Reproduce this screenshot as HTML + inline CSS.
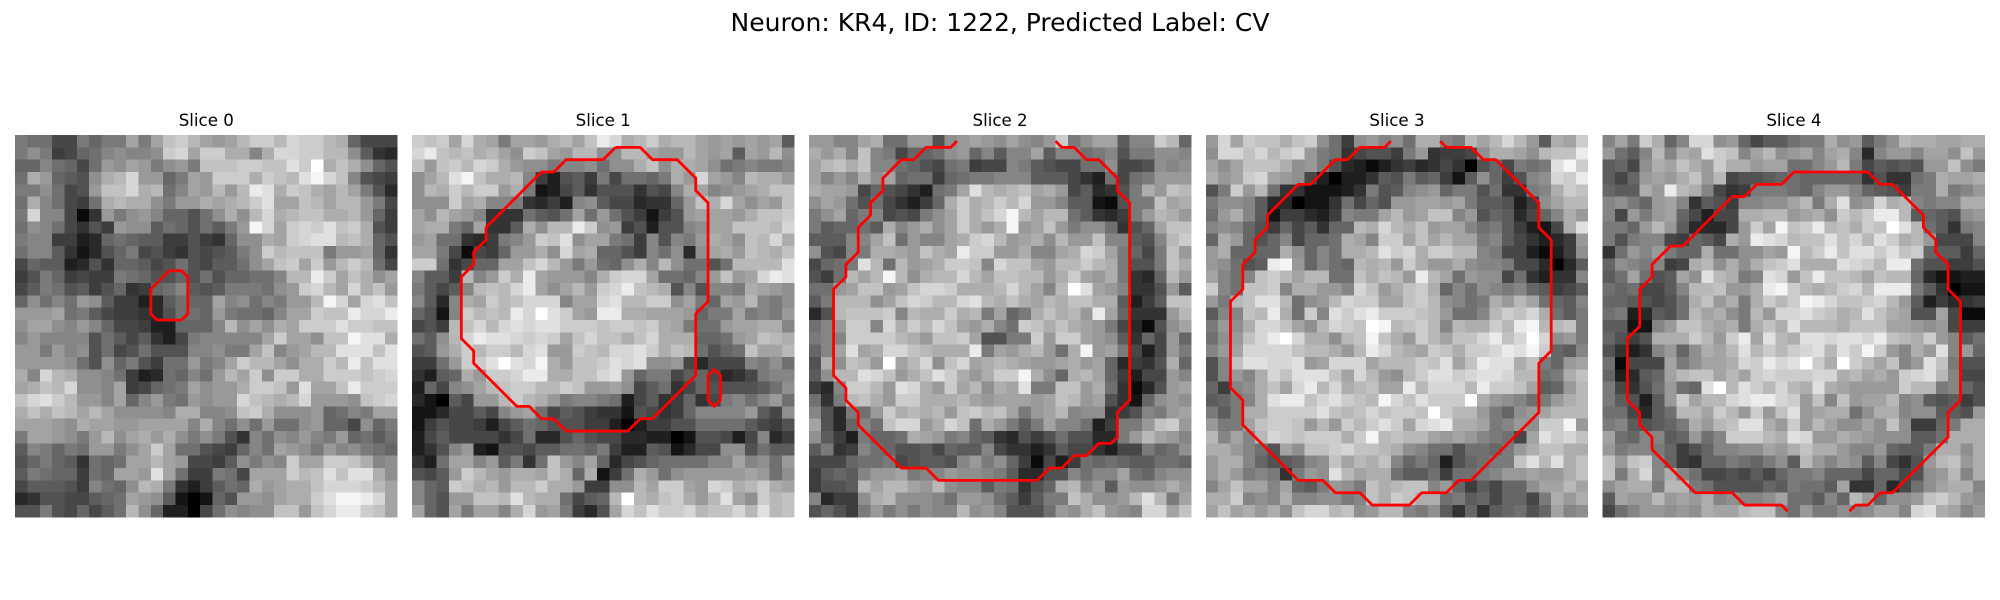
<!DOCTYPE html>
<html lang="en">
<head>
<meta charset="utf-8">
<title>Neuron: KR4, ID: 1222, Predicted Label: CV</title>
<style>
html,body{margin:0;padding:0;background:#fff;width:2000px;height:600px;overflow:hidden}
svg{display:block}
text{font-family:"DejaVu Sans","Liberation Sans",sans-serif;fill:#000}
</style>
</head>
<body>
<svg id="fig" xmlns="http://www.w3.org/2000/svg" width="2000" height="600" viewBox="0 0 2000 600">
<rect x="0" y="0" width="2000" height="600" fill="#fff"/>
<text x="1000" y="31" text-anchor="middle" font-size="25">Neuron: KR4, ID: 1222, Predicted Label: CV</text>
</svg>
<script>
const sliceTitles = ["Slice 0","Slice 1","Slice 2","Slice 3","Slice 4"];
const slice0 = [
[12,11,11,7,7,12,10,12,12,16,12,16,19,20,18,16,15,16,18,20,20,18,21,20,20,18,17,10,7,7,7],
[12,14,12,6,7,10,11,13,14,13,13,14,20,21,16,20,20,17,17,13,17,21,21,20,20,18,18,14,9,5,4],
[10,10,13,11,10,7,11,15,14,16,15,12,14,15,12,19,19,19,20,20,19,19,22,20,25,17,19,17,14,10,8],
[11,17,15,10,9,8,14,17,18,21,15,15,10,12,16,15,20,20,20,17,20,19,18,22,24,21,19,13,8,7,6],
[12,12,14,11,7,8,15,19,19,21,17,18,11,13,16,15,18,15,18,23,22,17,20,19,17,16,18,16,12,8,4],
[11,17,13,11,7,6,11,17,18,17,17,14,12,15,15,17,16,17,18,20,22,16,16,19,18,16,18,18,15,12,7],
[12,21,13,13,7,1,5,15,12,14,15,13,10,10,8,11,14,17,14,18,21,17,18,19,19,17,17,18,15,10,6],
[11,14,13,11,7,5,8,6,15,14,14,9,11,10,8,11,9,12,15,24,21,16,20,21,20,22,19,20,17,8,6],
[12,13,13,6,6,3,4,10,11,10,9,9,6,6,8,6,5,10,14,14,17,16,20,21,22,22,18,19,17,10,8],
[11,13,13,9,5,2,4,8,10,12,7,8,6,5,8,7,8,9,12,14,20,18,19,19,19,12,15,15,16,10,5],
[7,10,9,9,3,4,8,5,10,10,9,7,8,11,8,7,9,9,11,14,16,19,20,16,20,15,18,20,18,11,7],
[6,8,12,10,6,7,6,6,12,11,10,8,8,10,8,11,8,10,10,11,11,13,18,18,23,20,16,19,17,14,16],
[7,9,12,11,8,9,6,8,10,5,6,10,11,13,9,8,9,12,12,12,11,14,15,20,21,18,16,21,17,19,15],
[10,14,11,13,11,15,14,9,6,6,3,4,9,11,10,10,16,13,14,11,13,12,15,15,18,24,21,16,21,22,19],
[15,15,15,16,11,12,9,7,6,6,5,4,8,11,11,10,15,12,11,11,10,13,16,16,20,19,19,23,21,21,23],
[14,16,16,14,13,15,13,10,7,7,6,3,3,10,10,10,13,18,14,16,14,17,16,20,20,20,22,20,20,19,19],
[13,15,13,13,13,13,8,11,9,7,9,5,3,7,12,13,13,13,13,13,16,20,16,16,14,19,19,24,22,22,17],
[15,15,12,15,13,14,8,11,7,8,11,8,8,8,13,13,14,12,12,16,19,13,15,16,18,18,22,22,22,19,22],
[15,15,15,15,14,11,8,14,10,12,8,6,11,11,15,12,13,16,20,18,18,16,14,17,17,20,18,23,19,22,22],
[17,13,21,18,17,14,14,13,11,6,3,4,11,10,13,11,15,18,16,20,14,20,20,17,17,20,20,20,19,20,21],
[16,17,19,18,21,14,14,13,16,6,7,10,11,12,16,14,15,15,17,20,20,19,15,22,16,16,19,23,20,20,20],
[19,21,22,20,18,15,15,13,16,10,13,15,12,11,15,14,15,15,21,19,18,17,18,21,15,15,15,14,19,20,21],
[17,19,17,19,18,16,18,16,14,14,14,14,13,17,17,13,13,14,19,20,17,14,14,14,15,10,11,13,12,16,16],
[16,16,16,15,14,17,16,16,15,15,16,16,16,16,13,17,13,11,14,11,15,11,11,14,15,10,10,7,14,10,12],
[12,16,16,15,14,12,15,18,14,16,17,15,17,14,12,14,12,8,5,13,11,14,13,15,13,12,15,10,11,9,11],
[9,13,12,10,12,11,15,15,12,14,16,20,16,11,11,8,7,6,10,13,11,16,15,14,12,15,13,14,12,11,10],
[8,10,12,10,9,5,11,10,11,16,16,18,16,15,7,7,6,9,14,12,14,13,20,16,16,20,20,19,17,13,14],
[9,12,11,10,10,6,11,10,16,16,15,22,16,11,6,6,12,11,7,16,16,16,20,18,19,22,19,22,22,17,14],
[7,9,9,9,8,6,13,11,10,14,18,17,12,5,3,6,9,11,10,17,15,16,17,17,19,21,21,21,20,18,16],
[4,5,8,8,7,7,9,10,11,16,15,14,9,2,0,2,10,8,15,15,14,16,17,17,20,22,24,24,23,21,16],
[8,8,12,8,7,10,7,9,11,18,14,10,3,3,0,7,11,14,13,14,14,19,19,15,19,21,23,23,20,19,16]
];
const slice1 = [
[20,19,20,16,21,17,16,12,16,16,15,17,18,16,19,23,21,17,18,20,17,18,18,16,15,16,15,16,15,16,9],
[21,23,19,18,19,17,18,16,14,20,19,16,15,18,18,14,14,18,18,16,15,15,18,16,15,16,9,16,15,18,14],
[19,15,19,20,18,21,20,17,15,14,14,12,13,13,14,11,14,14,17,19,14,17,17,16,14,11,12,13,12,12,13],
[14,16,18,22,24,19,17,17,18,13,6,3,8,9,6,12,7,11,11,10,12,17,15,21,16,15,13,18,17,17,15],
[14,18,17,20,18,20,20,15,17,12,2,3,7,9,5,8,8,8,5,8,7,13,17,16,13,14,15,16,17,19,19],
[14,14,14,20,16,17,13,13,12,5,4,6,3,13,14,9,7,7,4,5,5,10,15,19,17,21,16,14,16,15,19],
[16,14,18,16,15,13,5,5,5,11,9,8,11,16,11,15,11,8,6,2,6,8,15,16,16,16,15,17,19,19,20],
[16,17,17,12,10,16,5,5,9,17,14,18,18,23,20,14,15,6,8,3,8,8,13,14,16,16,19,19,19,18,21],
[15,16,11,11,5,4,6,12,13,15,20,19,22,14,16,16,12,11,6,13,8,13,12,15,17,16,14,19,18,21,17],
[16,16,12,7,1,7,6,10,15,15,17,14,21,16,17,10,10,8,6,13,11,14,4,14,16,17,15,19,18,17,19],
[20,20,11,5,7,10,10,16,16,19,21,18,15,12,15,11,10,14,17,13,18,14,11,11,8,11,18,18,18,18,22],
[13,9,9,6,18,13,15,20,17,23,16,15,15,15,13,17,20,21,21,16,11,11,10,13,15,19,15,16,21,23,22],
[12,9,7,9,13,18,19,18,21,23,16,14,16,18,15,20,21,23,19,18,17,8,13,8,13,13,12,17,16,15,14],
[13,9,4,13,17,16,20,18,19,21,21,21,13,16,16,21,22,18,18,20,20,14,16,12,10,16,15,18,13,12,14],
[10,8,2,13,20,18,19,18,23,21,25,22,20,16,15,23,23,17,17,16,16,16,15,10,12,12,16,12,13,12,15],
[7,8,6,18,19,21,18,21,22,21,22,22,20,20,20,19,20,20,19,20,17,16,12,11,11,15,16,16,17,17,13],
[11,9,14,18,21,23,22,22,21,20,21,20,16,19,21,19,19,17,19,21,17,17,17,10,10,11,15,16,19,18,17],
[8,9,15,17,20,18,20,20,18,21,22,15,15,20,19,18,21,21,22,20,17,19,18,11,8,10,11,19,16,16,18],
[6,6,11,15,20,20,22,25,22,21,24,17,15,19,19,20,22,21,22,14,14,15,7,4,7,7,7,13,12,14,11],
[5,3,9,10,17,15,20,20,21,23,23,17,17,19,19,21,22,15,10,12,12,7,9,10,7,4,5,7,12,13,13],
[3,10,7,13,14,16,18,19,20,20,18,18,20,19,15,15,16,14,7,9,11,5,7,10,8,8,8,8,9,11,14],
[4,2,0,9,7,15,15,18,20,18,17,15,12,13,13,12,11,3,7,9,5,6,10,5,7,12,13,11,13,15,11],
[2,2,4,7,7,9,7,13,15,16,11,7,9,8,6,5,5,2,8,7,5,6,10,13,13,13,13,15,9,7,14],
[2,6,8,7,7,6,3,7,9,11,10,8,8,8,6,6,3,0,3,6,6,8,8,11,11,11,11,9,7,6,8],
[3,7,9,7,7,7,7,5,7,11,4,4,8,10,8,7,7,4,4,3,3,0,2,8,8,7,3,7,13,4,6],
[3,5,8,13,15,3,2,8,8,7,9,9,11,11,10,12,6,3,3,9,8,2,4,7,7,14,14,8,11,9,9],
[5,3,11,16,16,13,15,9,12,5,11,19,15,13,16,10,4,7,8,10,11,11,11,11,13,13,16,13,14,11,15],
[8,7,9,15,20,18,16,15,17,17,16,19,17,10,17,2,6,11,17,15,11,14,15,15,15,15,15,16,15,11,14],
[13,10,9,20,19,17,18,15,18,18,20,17,17,15,6,6,14,14,18,16,20,20,16,15,21,20,17,18,20,17,16],
[13,10,8,15,15,19,19,18,22,18,17,17,11,7,9,10,18,25,18,17,19,20,17,15,18,22,16,14,20,18,19],
[16,10,8,16,12,16,16,13,17,21,15,16,12,6,4,8,16,21,19,22,20,20,21,18,19,19,21,18,22,18,19]
];
const slice2 = [
[15,15,13,13,16,17,11,11,15,15,8,14,15,16,15,14,16,14,13,15,20,12,14,16,16,9,13,13,20,18,10],
[17,15,17,13,19,13,12,7,10,10,11,14,15,10,13,9,13,13,16,9,13,13,11,12,13,8,12,12,14,14,13],
[16,18,19,17,19,13,13,11,10,8,7,11,12,6,7,7,13,12,9,8,7,7,11,11,14,7,7,8,14,13,14],
[16,13,15,13,17,14,16,10,11,11,6,10,11,12,12,13,13,13,9,9,9,7,5,3,11,7,11,12,15,15,15],
[17,16,16,15,7,10,8,7,5,3,11,12,16,22,18,17,18,19,16,17,15,7,9,4,5,8,12,17,15,19,18],
[14,16,15,11,8,11,7,5,3,6,10,17,20,17,18,20,18,21,15,15,13,9,9,2,1,8,12,12,19,16,17],
[12,14,16,10,12,13,7,8,7,12,14,16,20,17,19,21,24,18,16,18,18,11,9,5,4,6,12,15,18,17,15],
[12,9,10,10,11,9,17,13,15,17,14,16,20,17,15,17,24,15,16,19,15,12,14,14,11,5,8,10,16,19,19],
[9,9,9,13,13,16,19,11,15,13,13,16,17,20,21,18,15,16,17,14,18,15,15,19,13,13,9,8,13,18,20],
[14,8,7,13,12,17,17,16,15,19,17,16,23,20,20,15,15,17,13,13,16,17,21,20,16,12,10,7,12,19,15],
[7,10,11,12,22,18,11,18,15,16,17,20,20,19,13,21,19,19,16,15,18,18,20,18,17,12,8,8,12,19,17],
[8,6,11,18,16,18,24,18,14,17,18,18,21,18,16,19,19,18,18,15,17,20,16,15,17,12,5,4,10,18,15],
[11,11,15,16,19,19,15,16,19,21,21,20,17,17,17,18,21,18,16,13,18,25,22,16,15,13,5,5,8,15,9],
[9,12,18,18,18,14,16,19,21,20,18,18,21,22,18,17,19,17,16,18,17,19,19,17,17,9,3,6,9,19,19],
[4,8,18,19,19,19,20,13,18,17,17,20,17,18,12,16,10,12,17,19,17,18,15,23,16,10,5,5,5,15,18],
[11,13,15,20,20,13,21,17,20,18,21,19,16,15,17,13,11,20,19,17,19,17,16,15,12,7,4,1,8,14,16],
[12,13,13,20,20,20,20,18,17,15,19,19,20,16,8,8,12,12,20,15,20,20,16,15,14,9,5,10,7,15,10],
[10,13,16,22,16,17,21,21,19,18,17,17,17,23,12,16,15,17,18,15,11,17,24,15,16,12,7,3,7,15,12],
[8,17,14,19,18,15,25,16,18,21,14,19,21,16,17,18,17,16,15,15,16,17,15,16,10,4,6,5,8,17,10],
[9,14,18,18,22,21,19,15,17,19,22,20,17,15,17,20,20,24,17,14,10,17,18,16,10,6,3,7,7,15,13],
[6,4,13,20,20,18,15,22,21,17,15,20,16,18,14,17,16,22,12,12,19,19,15,17,11,5,1,4,8,15,16],
[11,5,12,18,19,17,15,20,20,17,17,17,18,16,15,16,16,16,15,16,19,18,15,16,8,5,2,10,14,15,14],
[13,8,4,12,11,15,20,17,18,17,18,15,19,20,18,19,16,12,15,16,18,13,14,14,5,6,8,13,12,15,16],
[16,8,4,10,13,11,19,21,21,15,17,21,19,11,17,15,12,9,12,16,13,13,11,3,6,12,12,15,19,20,15],
[14,9,6,3,12,10,10,11,17,16,15,12,13,10,9,5,4,8,6,8,11,8,8,4,4,12,15,18,16,15,13],
[9,12,5,6,13,11,10,8,8,9,7,10,9,9,13,7,5,5,3,5,9,7,7,5,3,7,7,12,10,11,14],
[7,7,7,10,11,11,12,7,8,9,9,8,13,15,12,14,10,6,1,7,3,6,11,10,11,10,9,9,11,11,10],
[6,9,10,9,13,15,15,16,12,13,13,15,14,14,13,12,9,4,4,8,8,13,11,13,13,16,11,10,13,14,14],
[6,8,8,9,18,16,18,18,16,15,18,14,13,13,9,12,11,5,8,10,17,18,13,15,9,15,14,14,15,17,15],
[13,4,6,6,14,17,18,14,14,14,13,11,15,15,14,11,9,6,9,12,12,19,17,14,14,15,18,22,18,12,16],
[8,10,8,6,12,15,12,14,12,14,13,13,18,14,15,13,8,8,8,11,15,14,17,19,15,14,13,21,21,16,19]
];
const slice3 = [
[15,21,16,20,19,19,17,19,20,14,11,6,14,15,13,14,11,17,17,13,12,18,16,18,21,18,15,9,17,16,20],
[14,21,21,19,21,18,20,21,15,12,11,5,7,8,8,6,12,15,5,6,6,7,14,17,17,16,14,18,19,19,23],
[16,14,16,19,19,19,17,14,15,12,8,4,3,1,3,5,6,4,5,7,5,0,8,10,7,12,11,12,22,24,20],
[17,15,16,20,21,16,15,14,7,3,0,3,3,5,9,8,12,9,10,6,2,9,14,10,6,8,13,14,21,20,23],
[8,12,20,15,18,11,5,5,2,2,2,3,5,12,8,9,13,14,15,10,12,12,8,11,5,5,12,13,17,20,19],
[12,14,14,13,9,4,4,0,2,2,5,11,7,10,8,15,15,16,16,15,16,12,9,9,8,3,6,14,16,18,18],
[11,15,17,13,9,2,6,6,4,3,6,13,12,12,16,18,15,16,19,19,13,15,8,10,9,4,7,10,13,17,15],
[13,14,13,10,8,6,10,7,9,5,10,10,18,17,21,18,17,19,15,16,16,13,11,12,9,6,3,2,7,17,22],
[10,17,15,10,8,10,13,7,10,10,11,17,16,13,20,20,16,19,16,18,16,16,12,13,9,7,5,3,4,6,15],
[15,17,10,10,10,10,17,14,10,13,11,17,17,18,22,20,21,17,20,20,18,18,13,12,7,7,3,1,3,6,14],
[15,14,11,8,9,23,24,15,10,13,11,10,18,17,18,15,20,17,15,15,17,14,13,13,12,7,7,4,0,4,9],
[16,13,11,13,19,20,18,16,18,18,11,11,19,17,19,18,15,23,18,16,11,15,14,14,7,11,5,3,5,5,13],
[20,13,11,19,19,20,13,17,17,15,15,13,21,19,15,17,19,20,17,10,13,11,14,13,12,13,10,9,6,7,9],
[15,12,18,19,22,22,18,11,14,15,18,21,20,20,16,16,19,20,18,14,13,11,12,17,15,18,16,11,10,9,13],
[9,13,13,19,18,23,17,11,20,13,22,20,22,23,20,20,20,19,18,15,11,11,13,18,20,19,21,17,11,9,12],
[12,15,14,17,21,21,19,16,14,18,21,20,19,25,24,18,19,20,18,13,18,17,17,20,18,23,24,18,18,19,12],
[11,14,15,19,21,23,25,21,17,17,14,18,19,24,19,17,15,20,18,16,19,19,21,23,19,21,25,21,14,15,12],
[13,15,16,21,21,21,21,19,18,18,17,15,18,23,21,18,17,16,20,19,17,20,20,21,23,22,24,20,10,9,13],
[8,13,19,22,22,21,21,22,15,16,21,21,21,16,18,18,18,20,19,22,16,19,23,22,22,17,19,12,10,15,16],
[8,13,15,13,17,21,19,22,22,22,19,16,21,18,15,14,18,20,22,22,20,21,22,22,21,18,18,11,12,17,19],
[10,6,13,14,17,19,16,21,23,18,21,17,18,19,16,16,23,18,21,21,21,18,23,20,20,19,16,9,10,15,18],
[9,10,12,13,17,22,23,23,19,21,22,20,19,18,24,21,19,22,20,20,20,25,17,15,14,13,11,12,15,17,18],
[12,9,12,17,17,20,20,20,20,22,19,18,19,21,19,20,20,19,25,20,18,18,15,12,10,14,15,16,18,18,18],
[15,12,12,16,19,20,20,19,15,18,15,20,18,20,22,20,16,21,22,23,17,17,16,12,13,15,14,20,20,24,15],
[18,13,16,13,18,21,20,19,20,20,20,17,20,24,18,19,18,18,16,15,16,15,13,12,11,7,16,22,20,21,19],
[17,17,15,13,11,8,16,14,19,19,20,21,19,19,18,17,14,13,11,11,8,11,11,10,12,15,17,19,19,17,17],
[15,17,17,13,10,8,9,10,13,14,19,16,18,17,19,13,10,12,10,3,8,10,11,12,12,19,22,18,22,17,19],
[15,17,15,12,13,12,5,12,15,14,22,18,16,17,17,11,9,9,11,6,11,11,12,13,15,15,16,15,15,17,19],
[13,16,19,16,16,13,16,10,9,12,15,14,12,19,17,18,19,19,13,15,10,6,9,7,10,10,14,16,16,18,16],
[17,17,20,13,14,13,17,13,13,14,14,12,13,19,17,20,19,17,17,11,12,9,10,7,10,10,7,12,17,15,17],
[16,19,16,17,15,17,14,19,21,21,18,19,14,15,18,18,13,12,14,9,5,10,5,9,10,11,8,10,16,13,14]
];
const slice4 = [
[13,16,12,20,17,10,13,21,21,14,15,10,7,9,9,11,12,12,17,14,15,9,12,14,18,17,17,16,16,17,17],
[15,11,9,13,18,13,17,16,22,20,19,13,16,18,14,15,16,13,16,17,13,4,13,15,15,13,16,16,14,19,15],
[9,10,7,14,17,16,19,17,15,20,17,17,15,16,16,11,11,13,15,18,12,7,9,8,9,8,15,15,19,14,12],
[9,7,10,15,16,15,17,19,15,18,7,8,8,9,10,11,10,10,10,10,10,5,8,5,5,11,12,17,16,16,17],
[10,9,9,17,15,23,18,17,13,7,5,6,12,12,12,11,10,13,15,15,13,10,9,8,6,12,12,17,12,13,15],
[13,14,12,10,15,16,13,5,9,8,6,13,13,14,14,16,18,12,17,22,14,15,21,17,18,13,12,13,13,17,17],
[13,7,15,12,15,16,10,7,3,7,7,17,17,18,18,15,16,17,14,20,18,20,23,23,18,9,10,9,8,14,15],
[12,12,10,15,18,15,9,4,4,4,7,15,20,16,24,19,20,23,18,19,17,20,19,25,22,18,11,9,5,12,13],
[12,8,12,13,13,7,6,10,9,7,17,15,23,22,21,18,19,19,22,19,21,18,22,20,17,18,15,7,7,7,13],
[5,11,15,13,15,12,10,10,17,11,11,14,14,16,15,24,18,20,23,19,22,22,20,22,19,20,10,9,9,6,10],
[10,14,13,12,13,6,7,17,18,14,17,14,17,19,20,22,17,17,17,22,21,20,18,23,23,11,8,8,6,6,8],
[9,11,16,11,8,9,16,14,22,18,17,12,13,22,21,15,19,23,19,19,18,16,19,18,18,10,4,2,2,3,3],
[11,10,11,7,7,9,13,18,18,19,15,15,17,23,24,20,18,17,18,20,21,18,23,23,23,12,9,5,0,2,2],
[10,10,9,8,7,8,11,17,19,15,17,12,17,20,18,20,24,23,21,19,19,20,21,18,15,9,3,6,4,5,6],
[11,12,3,4,9,8,11,18,16,17,14,12,18,15,21,21,22,20,19,17,18,22,19,17,16,8,8,16,7,1,1],
[9,9,2,2,13,15,19,19,17,16,17,12,17,19,17,22,18,18,18,17,19,19,19,16,16,15,14,15,7,6,6],
[10,8,6,8,17,17,17,20,18,15,20,23,16,22,18,17,22,22,21,22,22,21,23,19,18,17,20,15,13,9,11],
[8,5,3,5,13,15,10,14,17,16,18,22,18,20,18,20,21,22,18,22,20,24,20,15,13,17,15,22,13,15,10],
[11,1,7,7,7,16,12,14,16,16,17,21,20,23,21,22,25,20,17,25,20,18,16,19,13,15,22,19,12,8,8],
[10,3,4,9,10,16,18,19,19,16,18,16,20,21,20,20,20,21,21,17,18,16,17,15,20,21,22,18,13,7,7],
[12,7,5,8,11,15,11,10,22,25,18,22,20,18,21,18,17,22,17,16,15,15,15,15,20,18,18,12,13,10,8],
[12,9,8,3,9,15,20,16,18,18,21,22,23,23,21,20,15,19,13,19,15,16,16,18,13,14,9,8,9,6,8],
[11,11,7,4,9,11,18,18,16,20,18,15,20,15,19,22,15,16,17,17,11,14,17,17,13,14,14,9,9,8,15],
[12,13,9,8,9,10,12,17,15,18,19,22,22,17,15,20,15,18,16,14,14,16,14,19,14,6,6,10,12,17,17],
[16,11,10,13,13,9,10,15,11,13,20,20,20,18,17,22,21,15,15,17,16,15,14,14,14,9,9,11,17,17,17],
[15,12,13,13,12,10,6,8,10,13,13,14,14,16,15,17,19,17,17,15,13,13,15,10,9,9,12,17,17,14,17],
[19,15,19,20,13,10,6,5,10,10,12,11,10,12,14,9,18,15,13,15,14,9,13,7,5,8,15,18,19,15,17],
[19,12,17,21,13,17,13,11,7,7,8,7,9,7,10,12,12,13,10,10,10,7,10,10,7,8,14,15,18,13,17],
[14,16,17,17,12,18,18,12,11,8,8,8,8,10,9,12,11,11,9,16,5,5,10,4,7,11,14,16,17,17,13],
[9,16,15,15,18,15,16,15,17,13,14,13,13,14,16,11,11,9,13,10,18,15,10,14,14,15,19,20,18,15,14],
[7,11,13,15,15,14,15,14,17,16,16,18,19,19,13,11,15,12,12,14,13,14,16,16,13,21,22,17,16,13,15]
];
const contour0a = [[12,10.5],[13,10.5],[13.5,11],[13.5,14],[13,14.5],[11,14.5],[10.5,14],[10.5,12],[12,10.5]];
const contour1a = [[16,0.5],[18,0.5],[19,1.5],[21,1.5],[22.5,3],[22.5,4],[23.5,5],[23.5,13],[22.5,14],[22.5,19],[19,22.5],[18,22.5],[17,23.5],[12,23.5],[11,22.5],[10,22.5],[9,21.5],[8,21.5],[4.5,18],[4.5,17],[3.5,16],[3.5,11],[4.5,10],[4.5,9],[5.5,8],[5.5,7],[10,2.5],[11,2.5],[12,1.5],[15,1.5],[16,0.5]];
const contour1b = [[24,18.5],[24.5,19],[24.5,21],[24,21.5],[23.5,21],[23.5,19],[24,18.5]];
const contour2a = [[19.5,0],[20,0.5],[21,0.5],[22,1.5],[23,1.5],[24.5,3],[24.5,4],[25.5,5],[25.5,21],[24.5,22],[24.5,24],[24,24.5],[23,24.5],[22,25.5],[21,25.5],[20,26.5],[19,26.5],[18,27.5],[10,27.5],[9,26.5],[7,26.5],[3.5,23],[3.5,22],[2.5,21],[2.5,20],[1.5,19],[1.5,12],[2.5,11],[2.5,10],[3.5,9],[3.5,7],[4.5,6],[4.5,5],[5.5,4],[5.5,3],[7,1.5],[8,1.5],[9,0.5],[11,0.5],[11.5,0]];
const contour3a = [[18.5,0],[19,0.5],[21,0.5],[22,1.5],[23,1.5],[26.5,5],[26.5,7],[27.5,8],[27.5,17],[26.5,18],[26.5,22],[21,27.5],[20,27.5],[19,28.5],[17,28.5],[16,29.5],[13,29.5],[12,28.5],[10,28.5],[9,27.5],[7,27.5],[2.5,23],[2.5,21],[1.5,20],[1.5,13],[2.5,12],[2.5,10],[3.5,9],[3.5,8],[4.5,7],[4.5,6],[7,3.5],[8,3.5],[10,1.5],[11,1.5],[12,0.5],[14,0.5],[14.5,0]];
const contour4a = [[19.5,30],[20,29.5],[21,29.5],[22,28.5],[23,28.5],[27.5,24],[27.5,22],[28.5,21],[28.5,13],[27.5,12],[27.5,10],[26.5,9],[26.5,8],[25.5,7],[25.5,6],[23,3.5],[22,3.5],[21,2.5],[15,2.5],[14,3.5],[12,3.5],[11,4.5],[10,4.5],[6,8.5],[5,8.5],[3.5,10],[3.5,11],[2.5,12],[2.5,15],[1.5,16],[1.5,21],[2.5,22],[2.5,23],[3.5,24],[3.5,25],[7,28.5],[10,28.5],[11,29.5],[14,29.5],[14.5,30]];
const sliceImages = [slice0, slice1, slice2, slice3, slice4];
const sliceContours = [[contour0a],[contour1a,contour1b],[contour2a],[contour3a],[contour4a]];

const NS = "http://www.w3.org/2000/svg";
const fig = document.getElementById("fig");
const GRID = 31;
const AX_LEFT = 15.1, AX_STEP = 396.9, AX_TOP = 135, AX_SIZE = 382.4;

function edgeX(panel, v){ return AX_LEFT + panel * AX_STEP + (v / GRID) * AX_SIZE; }
function edgeY(v){ return AX_TOP + (v / GRID) * AX_SIZE; }
function scaleX(panel, v){ return edgeX(panel, v + 0.5); }
function scaleY(v){ return edgeY(v + 0.5); }
function grayOf(v){
  const g = Math.max(0, Math.min(255, Math.round(v * 10.2)));
  return "rgb(" + g + "," + g + "," + g + ")";
}

sliceImages.forEach(function(image, p){
  const g = document.createElementNS(NS, "g");
  
  
  fig.appendChild(g);

  const title = document.createElementNS(NS, "text");
  
  
  title.setAttribute("x", edgeX(p, GRID / 2));
  title.setAttribute("y", 126);
  title.setAttribute("text-anchor", "middle");
  title.setAttribute("font-size", "16.67");
  title.textContent = sliceTitles[p];
  g.appendChild(title);

  const cells = document.createElementNS(NS, "g");
  
  
  cells.setAttribute("shape-rendering", "crispEdges");
  g.appendChild(cells);

  image.forEach(function(row, r){
    row.slice(0, GRID).forEach(function(val, c){
      const cell = document.createElementNS(NS, "rect");
      
      
      cell.setAttribute("x", edgeX(p, c).toFixed(2));
      cell.setAttribute("y", edgeY(r).toFixed(2));
      cell.setAttribute("width", (edgeX(p, c + 1) - edgeX(p, c)).toFixed(2));
      cell.setAttribute("height", (edgeY(r + 1) - edgeY(r)).toFixed(2));
      cell.setAttribute("fill", grayOf(val));
      cells.appendChild(cell);
    });
  });

  sliceContours[p].forEach(function(points){
    const line = document.createElementNS(NS, "polyline");
    
    
    line.setAttribute("points", points.map(function(pt){
      return scaleX(p, pt[0]).toFixed(2) + "," + scaleY(pt[1]).toFixed(2);
    }).join(" "));
    line.setAttribute("fill", "none");
    line.setAttribute("stroke", "#ff0000");
    line.setAttribute("stroke-width", "2.8");
    line.setAttribute("stroke-linejoin", "round");
    g.appendChild(line);
  });
});
</script>
</body>
</html>
